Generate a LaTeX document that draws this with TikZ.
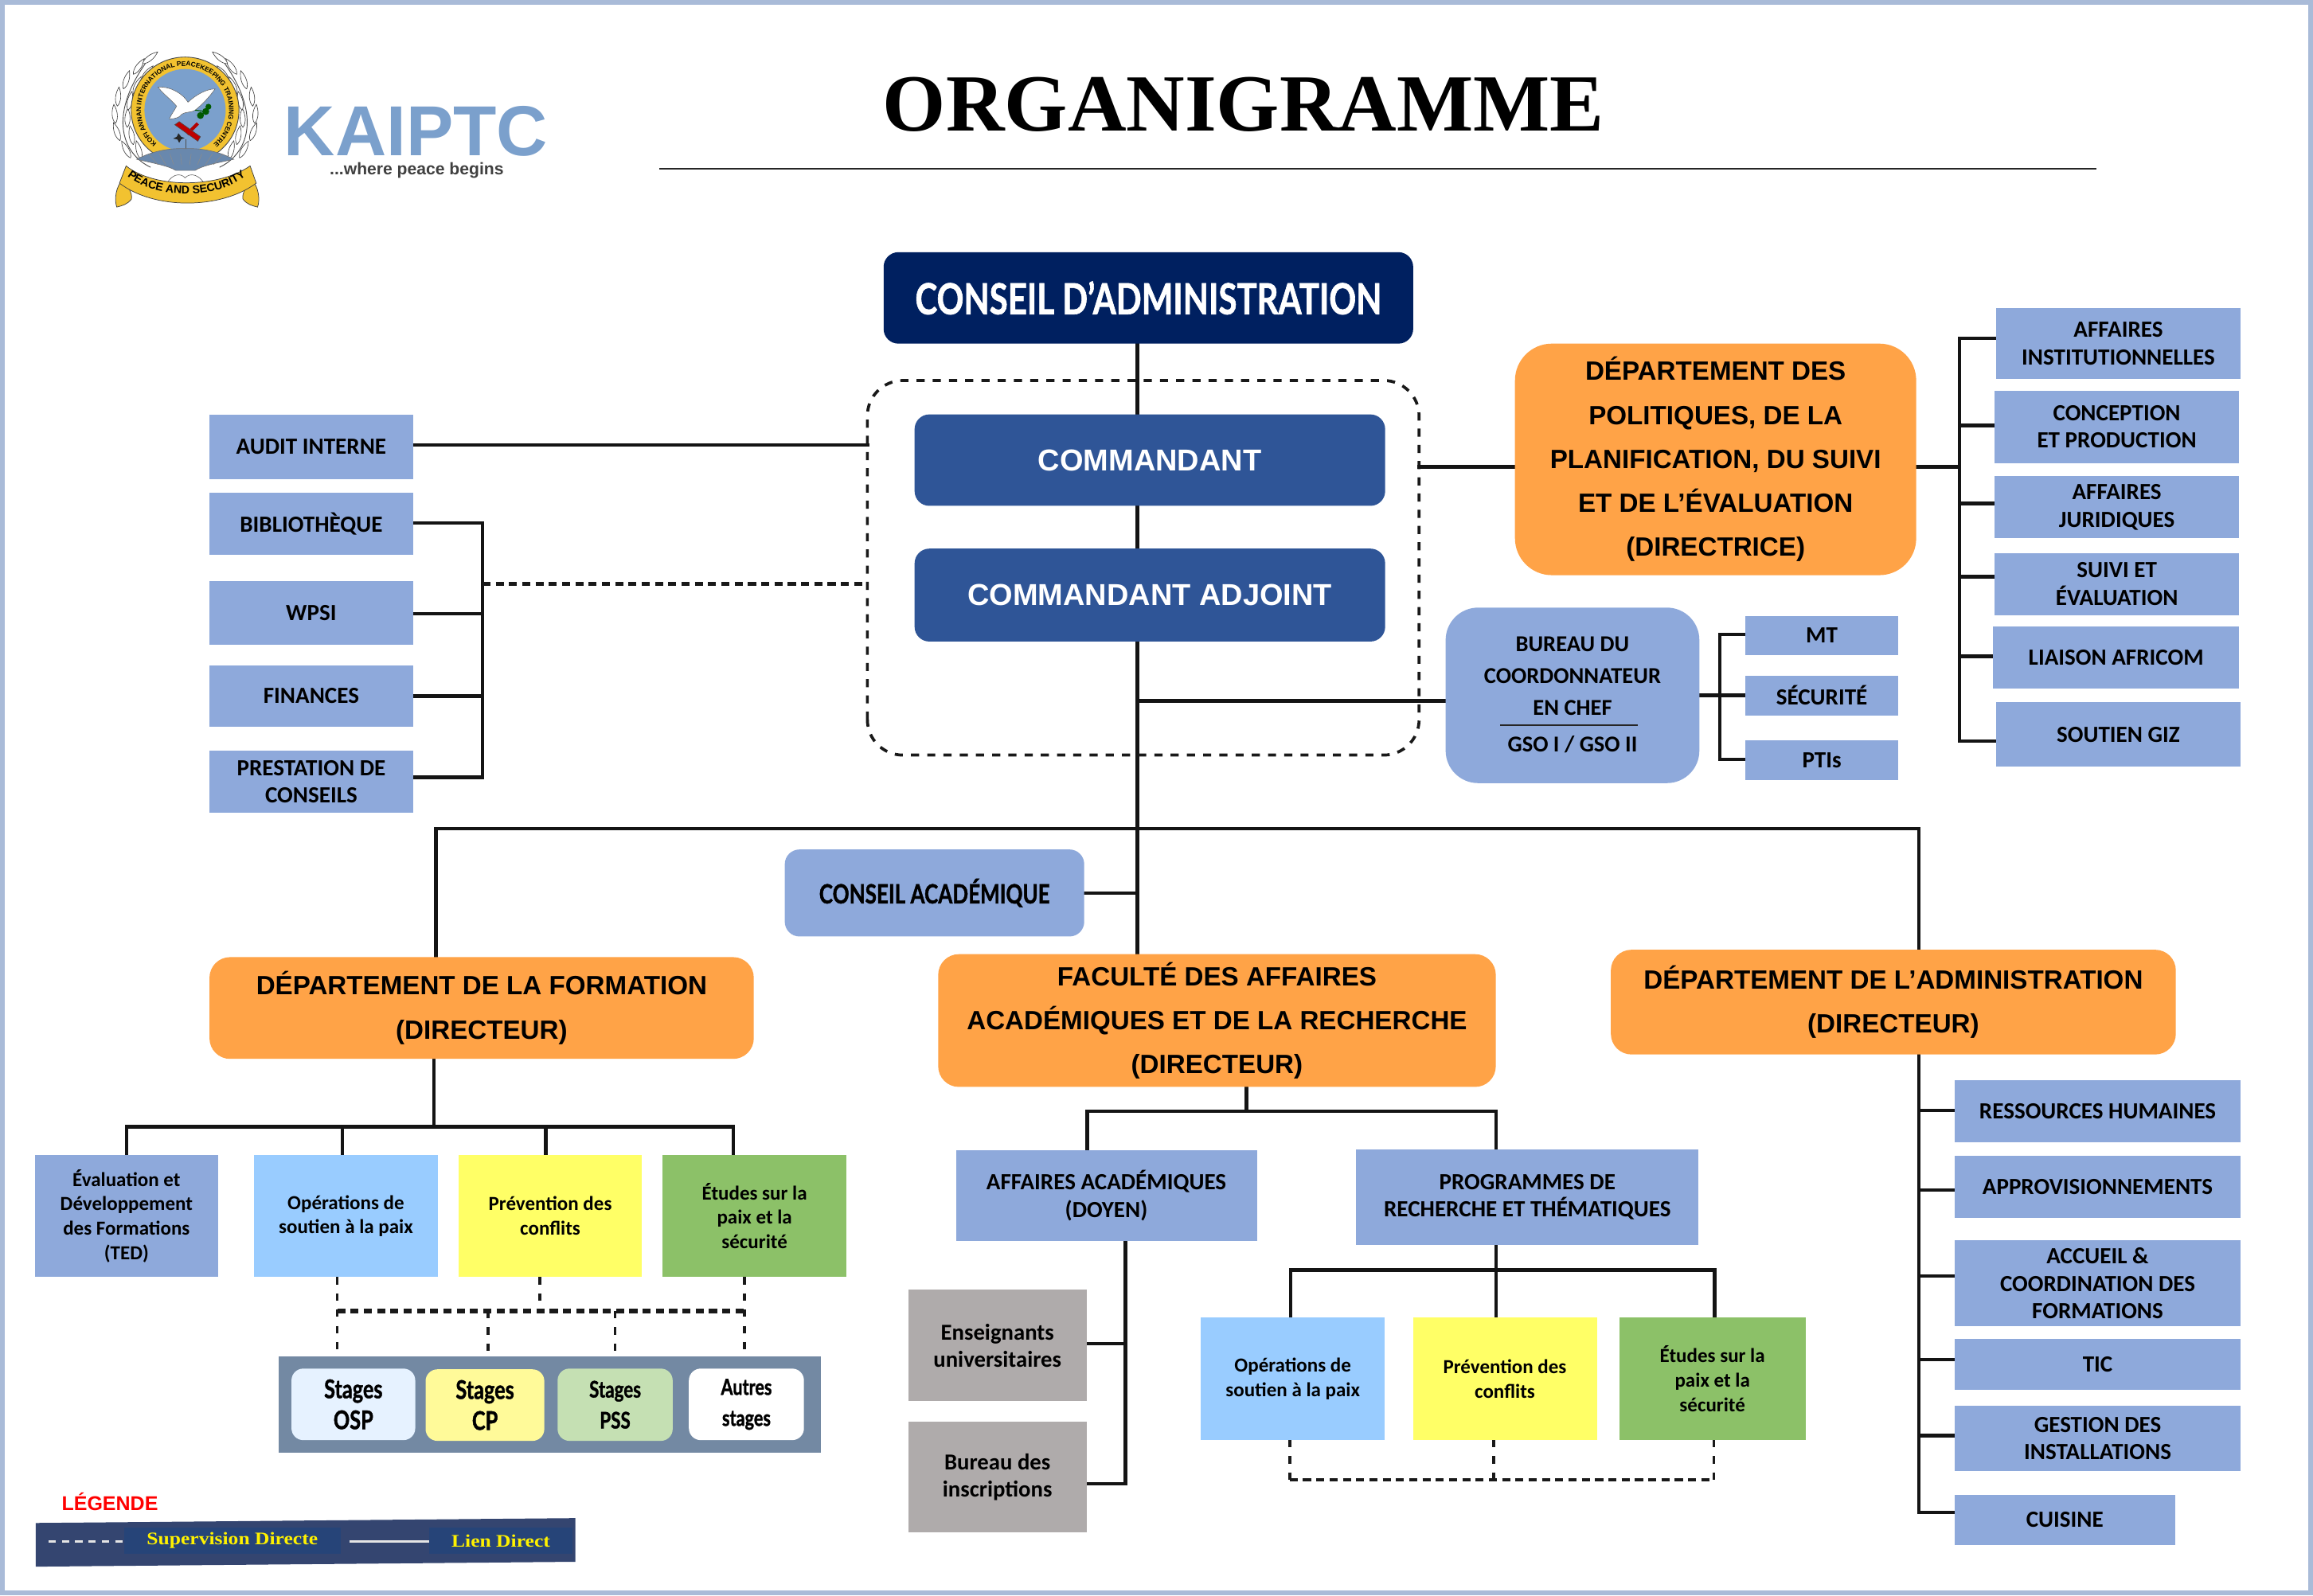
\documentclass[tikz,border=0pt]{standalone}
\usepackage{fontspec}
\usetikzlibrary{decorations.text}
\newfontfamily\calf{Carlito}
\newfontfamily\arl{Liberation Sans}
\newfontfamily\serf{Liberation Serif}
\newfontfamily\legf[FakeStretch=1.15]{Liberation Serif}
\newfontfamily\cond[FakeStretch=0.78,FakeBold=1.2]{Lato}
\definecolor{bluebx}{HTML}{8EA9DB}
\definecolor{orng}{HTML}{FFA347}
\definecolor{navy}{HTML}{002060}
\definecolor{roy}{HTML}{2F5597}
\definecolor{lblue}{HTML}{99CCFF}
\definecolor{lyel}{HTML}{FFFF66}
\definecolor{lgrn}{HTML}{8CC168}
\definecolor{gry}{HTML}{AFABAB}
\definecolor{panel}{HTML}{7389A3}
\definecolor{frame}{HTML}{A9BBD8}
\definecolor{lgold}{HTML}{F2C230}
\definecolor{lsky}{HTML}{7BA0CC}
\pgfdeclarelayer{paper}\pgfdeclarelayer{bg}\pgfsetlayers{paper,bg,main}
\tikzset{
 basebx/.style={inner sep=0pt,outer sep=0pt,align=center,text=black},
 cal/.style 2 args={font=\calf\bfseries\fontsize{#1}{#2}\selectfont},
 ari/.style 2 args={font=\arl\bfseries\fontsize{#1}{#2}\selectfont},
 cnd/.style 2 args={font=\cond\bfseries\fontsize{#1}{#2}\selectfont},
 bluebox/.style={basebx,fill=bluebx,cal={15.7}{18.5}},
 orangebox/.style={basebx,fill=orng,ari={17.9}{29.8},rounded corners=14pt},
 unitbox/.style={basebx,cal={13.5}{16.5}},
 stagebox/.style={basebx,rounded corners=8pt},
 ln/.style={draw=black!92,line width=2.3pt,line cap=rect},
 dashv/.style={draw=black!90,line width=1.9pt,dash pattern=on 5pt off 6pt},
 dashh/.style={draw=black!90,line width=2.8pt,dash pattern=on 5.5pt off 3.5pt},
}
\newcommand{\bx}[7]{\node[#1,minimum width={(#5-#3)*1pt},minimum height={(#6-#4)*1pt}] (#2) at ({(#3+#5)/2},{(#4+#6)/2}) {#7};}
\newcommand{\stubl}[3]{\draw[ln] ([yshift=#1pt]#2) -- ([yshift=#1pt]#2 -| #3);}
\newcommand{\leafshape}[3]{\draw[fill=white,draw=black!75,line width=.35pt,shift={(#1,#2)},rotate=#3] (0,0) .. controls (18,-14) and (48,-12) .. (72,0) .. controls (48,12) and (18,14) .. (0,0);}
\begin{document}
\begin{tikzpicture}[x=1pt,y=-1pt]
\useasboundingbox (0,0) rectangle (1568,1082.2);
\begin{pgfonlayer}{paper}
\fill[white] (0,0) rectangle (1568,1082.2);
\end{pgfonlayer}
\draw[frame,line width=3pt] (1.5,1.5) rectangle (1566.5,1080);

% ---------- logo ----------
\begin{scope}[shift={(70.2,32.4)},x=0.18pt,y=-0.18pt]
 \foreach \s in {1,-1}{
 \begin{scope}[shift={(307,0)},xscale=\s]
  \foreach \px/\py/\an in {-205/415/118,-245/350/110,-262/285/95,-255/220/85,-232/155/72,-195/100/55,-160/60/38,
                           -165/420/105,-195/365/100,-218/300/88,-215/235/78,-195/175/66,-165/125/52}
    {\leafshape{\px}{\py}{\an}}
  \draw[black!70,line width=.5pt] (-130,450) .. controls (-235,400) and (-290,260) .. (-150,60);
 \end{scope}}
 \fill[lgold] (307,235) ellipse [x radius=203,y radius=200];
 \draw[black!70,line width=.5pt] (307,235) ellipse [x radius=203,y radius=200];
 \fill[lsky] (307,235) ellipse [x radius=153,y radius=155];
 \path[decorate,decoration={text along path,text align=center,
   text={|\arl\bfseries\fontsize{4.5}{5}\selectfont|KOFI ANNAN INTERNATIONAL PEACEKEEPING TRAINING CENTRE}}]
   (204.8,365.8) .. controls (128.4,306.1) and (119.2,193.8) .. (184.9,122.5)
   .. controls (250.6,51.2) and (363.4,51.2) .. (429.1,122.5)
   .. controls (494.8,193.8) and (485.6,306.1) .. (409.2,365.8);
 % dove
 \draw[fill=white,draw=black!60,line width=.3pt] (205,148) .. controls (255,145) and (300,175) .. (318,205)
   .. controls (345,180) and (385,155) .. (420,155) .. controls (395,190) and (370,215) .. (345,235)
   .. controls (330,245) and (310,240) .. (295,250) .. controls (285,265) and (265,268) .. (248,268)
   .. controls (255,250) and (268,235) .. (275,220) .. controls (255,195) and (225,175) .. (205,148) -- cycle;
 \fill[green!35!black] (365,255) circle (13) (385,240) circle (13) (395,222) circle (11);
 \draw[green!35!black,line width=.6pt] (345,235) -- (385,240);
 % emblem
 \draw[line width=2.2pt,red!70!black] (355,285) -- (315,325);
 \draw[fill=red!75!black,draw=black!70,line width=.3pt] (268,290) -- (285,278) -- (365,335) -- (355,352) -- cycle;
 \fill[black!85] (282,322) -- (292,335) -- (305,340) -- (292,345) -- (285,358) -- (278,345) -- (262,342) -- (276,335) -- cycle;
 \draw[black!70,line width=1pt] (310,345) -- (310,385);
 % wings
 \draw[fill=lsky!85!black,draw=black!55,line width=.35pt] (125,420) .. controls (190,385) and (260,378) .. (307,380)
   .. controls (355,378) and (425,385) .. (490,420) .. controls (420,435) and (370,445) .. (345,462)
   -- (272,462) .. controls (245,445) and (190,435) .. (125,420) -- cycle;
 \foreach \q in {170,210,250,290,330,370,410,450}{\draw[black!45,line width=.3pt] (\q,400) -- ({\q+(307-\q)*.25},440);}
 % ribbon
 \draw[fill=white,draw=black!60,line width=.35pt] (225,540) .. controls (250,470) and (290,470) .. (307,490) .. controls (325,470) and (365,470) .. (395,540);
 \foreach \s in {1,-1}{
 \begin{scope}[shift={(315,0)},xscale=\s]
  \draw[fill=lgold,draw=black!75,line width=.4pt] (-240,495) .. controls (-270,520) and (-275,575) .. (-265,600)
    .. controls (-245,595) and (-225,590) .. (-210,570) .. controls (-205,545) and (-225,525) .. (-240,495) -- cycle;
 \end{scope}}
 \draw[fill=lgold,draw=black!75,line width=.4pt] (85,445) .. controls (190,530) and (430,530) .. (552,445)
   -- (575,510) .. controls (440,610) and (190,610) .. (60,510) -- cycle;
 \path[decorate,decoration={text along path,text align=center,
   text={|\arl\bfseries\fontsize{7.6}{8}\selectfont|PEACE AND SECURITY}}]
   (95,488) .. controls (200,570) and (420,570) .. (530,488);
\end{scope}
\node[inner sep=0pt,text=lsky,font=\arl\bfseries\fontsize{48}{50}\selectfont] (kaip) at (282,89) {KAIPTC};
\node[inner sep=0pt,text=black!75,font=\arl\bfseries\fontsize{11.4}{13}\selectfont] (tag) at (282.5,115.5) {...where peace begins};

% ---------- title ----------
\node[inner sep=0pt,font=\serf\bfseries\fontsize{55}{58}\selectfont] (title) at (843,71) {ORGANIGRAMME};
\coordinate (rl) at (447,114.5);
\coordinate (rr) at (1421,114.5);
\draw[black!85,line width=1.4pt] (rl) -- (rr);

% ---------- top ----------
\bx{basebx,fill=navy,text=white,rounded corners=10pt,cnd={29}{32}}{ca}{599}{171}{958}{233}{CONSEIL D’ADMINISTRATION}
\bx{basebx,fill=roy,text=white,rounded corners=10pt,ari={20.5}{25}}{cmd}{620}{281}{939}{343}{COMMANDANT}
\bx{basebx,fill=roy,text=white,rounded corners=10pt,ari={20.5}{25}}{adj}{620}{372}{939}{435}{COMMANDANT ADJOINT}
\node[minimum width=374pt,minimum height=254pt,inner sep=0pt,outer sep=0pt] (dbox) at (775,385) {};

% ---------- left ----------
\bx{bluebox}{audit}{142}{281}{280}{325}{AUDIT INTERNE}
\bx{bluebox}{bib}{142}{334}{280}{376}{BIBLIOTHÈQUE}
\bx{bluebox}{wpsi}{142}{394}{280}{437}{WPSI}
\bx{bluebox}{fin}{142}{451}{280}{493}{FINANCES}
\bx{bluebox}{prest}{142}{509}{280}{551}{PRESTATION DE\\CONSEILS}

% ---------- right ----------
\bx{orangebox,rounded corners=25pt}{dp}{1027}{233}{1299}{390}{DÉPARTEMENT DES\\POLITIQUES, DE LA\\PLANIFICATION, DU SUIVI\\ET DE L’ÉVALUATION\\(DIRECTRICE)}
\bx{bluebox}{ainst}{1353}{209}{1519}{257}{AFFAIRES\\INSTITUTIONNELLES}
\bx{bluebox}{concp}{1352}{265}{1518}{314}{CONCEPTION\\ET PRODUCTION}
\bx{bluebox}{jur}{1352}{323}{1518}{365}{AFFAIRES\\JURIDIQUES}
\bx{bluebox}{suivi}{1352}{375}{1518}{417}{SUIVI ET\\ÉVALUATION}
\bx{bluebox}{liais}{1351}{425}{1518}{467}{LIAISON AFRICOM}
\bx{bluebox}{giz}{1353}{476}{1519}{520}{SOUTIEN GIZ}

\bx{basebx,fill=bluebx,rounded corners=22pt}{bur}{980}{412}{1152}{531}{}
\node[inner sep=0pt,align=center,cal={15.4}{21.5}] (burt) at (1066,458.5) {BUREAU DU\\COORDONNATEUR\\EN CHEF};
\node[inner sep=0pt,cal={15.4}{17}] (gso) at (1066,505) {GSO I / GSO II};
\coordinate (brl) at (1017,491.8);
\coordinate (brr) at (1110.4,491.8);
\draw[black!85,line width=1.1pt] (brl) -- (brr);
\bx{bluebox}{mt}{1183}{418}{1287}{444}{MT}
\bx{bluebox}{secu}{1183}{458}{1287}{485}{SÉCURITÉ}
\bx{bluebox}{pti}{1183}{502}{1287}{529}{PTIs}

% ---------- academic ----------
\bx{basebx,fill=bluebx,rounded corners=10pt,cnd={18}{20}}{cac}{532}{576}{735}{635}{CONSEIL ACADÉMIQUE}
\bx{orangebox}{form}{142}{649}{511}{718}{DÉPARTEMENT DE LA FORMATION\\(DIRECTEUR)}
\bx{orangebox}{fac}{636}{647}{1014}{737}{FACULTÉ DES AFFAIRES\\ACADÉMIQUES ET DE LA RECHERCHE\\(DIRECTEUR)}
\bx{orangebox}{adm}{1092}{644}{1475}{715}{DÉPARTEMENT DE L’ADMINISTRATION\\(DIRECTEUR)}

% ---------- formation units ----------
\bx{unitbox,fill=bluebx}{ted}{23.5}{783}{148}{866}{Évaluation et\\Développement\\des Formations\\(TED)}
\bx{unitbox,fill=lblue}{op}{172}{783}{297}{866}{Opérations de\\soutien à la paix}
\bx{unitbox,fill=lyel}{prev}{311}{783}{435}{866}{Prévention des\\conflits}
\bx{unitbox,fill=lgrn}{etu}{449}{783}{574}{866}{Études sur la\\paix et la\\sécurité}

\bx{basebx,fill=panel}{pan}{189}{919.5}{556.6}{985}{}
\bx{stagebox,fill=lblue!25!white,cnd={17.5}{21}}{osp}{197.6}{928}{281.5}{976.5}{Stages\\OSP}
\bx{stagebox,fill=yellow!40!white,cnd={17.5}{21}}{cp}{288.5}{928.5}{369}{977}{Stages\\CP}
\definecolor{pssc}{HTML}{C5E0B3}
\bx{stagebox,fill=pssc,cnd={15.5}{21}}{pss}{378}{928}{456}{977}{Stages\\PSS}
\bx{stagebox,fill=white,cnd={15}{21}}{aut}{467}{928}{545}{976.5}{Autres\\stages}

% ---------- faculty units ----------
\bx{bluebox}{aac}{648}{780}{852}{841.5}{AFFAIRES ACADÉMIQUES\\(DOYEN)}
\bx{bluebox}{prog}{919.3}{779.3}{1151.5}{844.2}{PROGRAMMES DE\\RECHERCHE ET THÉMATIQUES}
\bx{basebx,fill=gry,cal={15.5}{18.5}}{ens}{615.6}{874.6}{736.7}{950}{Enseignants\\universitaires}
\bx{basebx,fill=gry,cal={15.5}{18.5}}{insc}{615.6}{964}{736.7}{1039}{Bureau des\\inscriptions}
\bx{unitbox,fill=lblue}{op2}{814}{893.4}{938.8}{976.4}{Opérations de\\soutien à la paix}
\bx{unitbox,fill=lyel}{prev2}{957.8}{893.4}{1082.5}{976.4}{Prévention des\\conflits}
\bx{unitbox,fill=lgrn}{etu2}{1097.8}{893.4}{1223.9}{976.4}{Études sur la\\paix et la\\sécurité}

% ---------- administration units ----------
\bx{bluebox}{rh}{1325}{732.2}{1519}{774.4}{RESSOURCES HUMAINES}
\bx{bluebox}{appr}{1325}{783.5}{1519}{825.7}{APPROVISIONNEMENTS}
\bx{bluebox}{acc}{1325}{841}{1519}{899.3}{ACCUEIL \&\\COORDINATION DES\\FORMATIONS}
\bx{bluebox}{tic}{1325}{908.1}{1519}{942.2}{TIC}
\bx{bluebox}{gest}{1325}{953.2}{1519}{997.3}{GESTION DES\\INSTALLATIONS}
\bx{bluebox}{cuis}{1325}{1013.4}{1474.5}{1047.5}{CUISINE}

% ---------- legend ----------
\node[inner sep=0pt,text=red,font=\arl\bfseries\fontsize{13.5}{15}\selectfont] (leg) at (74.5,1018) {LÉGENDE};
\definecolor{legbg}{HTML}{344570}
\definecolor{legin}{HTML}{264478}
\fill[legbg] (24.2,1032.7) -- (390,1029.4) -- (390,1059) -- (24.2,1062.3) -- cycle;
\bx{basebx,fill=legin,text=yellow,font=\legf\bfseries\fontsize{12}{14}\selectfont}{lsup}{84}{1036}{231}{1053.5}{Supervision Directe}
\bx{basebx,fill=legin,text=yellow,font=\legf\bfseries\fontsize{12}{14}\selectfont}{llie}{291}{1036}{388}{1053.5}{Lien Direct}
\coordinate (lda) at (33,1045.2);
\draw[white!90!black,line width=1.7pt,dash pattern=on 5pt off 4pt] (lda) -- (lda -| lsup.west);
\coordinate (lsa) at (237,1045.2);
\draw[white!90!black,line width=1.7pt] (lsa) -- (lsa -| llie.west);

% ---------- connectors ----------
\begin{pgfonlayer}{bg}
\coordinate (mx) at (771,562);
\coordinate (fj) at (295.5,562);
\coordinate (aj) at (1301,562);
\draw[ln] (ca.south -| mx) -- (fac.north -| mx);
\draw[ln] (fj) -- (aj);
\draw[ln] (fj) -- (form.north -| fj);
\draw[ln] (aj) -- (adm.north -| aj);
\draw[ln] (cac.east) -- (cac.east -| mx);
% dashed frame
\draw[draw=black!90,line width=2pt,dash pattern=on 5.5pt off 5.5pt,rounded corners=24pt] (dbox.south west) rectangle (dbox.north east);
% left
\stubl{1.2}{audit.east}{dbox.west}
\coordinate (bl) at (327,396);
\stubl{0.5}{bib.east}{bl}
\stubl{-0.5}{wpsi.east}{bl}
\stubl{0}{fin.east}{bl}
\stubl{3}{prest.east}{bl}
\draw[ln] ([yshift=0.5pt]bib.east -| bl) -- ([yshift=3pt]prest.east -| bl);
\draw[dashh] (bl) -- (bl -| dbox.west);
% right
\coordinate (rb) at (1328.5,316.5);
\draw[ln] (rb -| dbox.east) -- (rb -| dp.west);
\draw[ln] (rb -| dp.east) -- (rb);
\stubl{3.5}{ainst.west}{rb}
\stubl{1}{concp.west}{rb}
\stubl{2.6}{jur.west}{rb}
\stubl{5}{suivi.west}{rb}
\stubl{1}{liais.west}{rb}
\stubl{-4.7}{giz.west}{rb}
\draw[ln] ([yshift=3.5pt]ainst.west -| rb) -- ([yshift=-4.7pt]giz.west -| rb);
% bureau
\stubl{-3.8}{bur.west}{mx}
\coordinate (bb) at (1166,471.5);
\draw[ln] (bur.east) -- (secu.west);
\stubl{1}{mt.west}{bb}
\stubl{0.4}{pti.west}{bb}
\draw[ln] ([yshift=1pt]mt.west -| bb) -- ([yshift=0.4pt]pti.west -| bb);
% formation
\coordinate (fd) at (294,764);
\coordinate (d1) at (86,764);
\coordinate (d2) at (232,764);
\coordinate (d3) at (370,764);
\coordinate (d4) at (497,764);
\draw[ln] (form.south -| fd) -- (fd);
\draw[ln] (ted.north -| d1) -- (d1) -- (d4) -- (etu.north -| d4);
\draw[ln] (d2) -- (op.north -| d2);
\draw[ln] (d3) -- (prev.north -| d3);
% stages dashed
\coordinate (s1) at (228.6,889);
\coordinate (s2) at (366,889);
\coordinate (s3) at (504.6,889);
\coordinate (s4) at (331,889);
\coordinate (s5) at (417,889);
\draw[dashv] (op.south -| s1) -- (pan.north -| s1);
\draw[dashv] (etu.south -| s3) -- (pan.north -| s3);
\draw[dashv] (prev.south -| s2) -- (s2);
\draw[dashv] (s4) -- (pan.north -| s4);
\draw[dashv] (s5) -- (pan.north -| s5);
\draw[dashh] (s1) -- (s3);
% faculty
\coordinate (fb) at (845,753.4);
\coordinate (fl) at (737,753.4);
\coordinate (fr) at (1014,753.4);
\draw[ln] (fac.south -| fb) -- (fb);
\draw[ln] (aac.north -| fl) -- (fl) -- (fr) -- (prog.north -| fr);
\coordinate (ax) at (763,900);
\draw[ln] (aac.south -| ax) -- ([yshift=-4.6pt]insc.east -| ax);
\stubl{1.1}{ens.east}{ax}
\stubl{-4.6}{insc.east}{ax}
\coordinate (pj) at (1014,861.2);
\coordinate (pl) at (875,861.2);
\coordinate (pr) at (1162.3,861.2);
\draw[ln] (prog.south -| pj) -- (prev2.north -| pj);
\draw[ln] (op2.north -| pl) -- (pl) -- (pr) -- (etu2.north -| pr);
\coordinate (q1) at (874.3,1003.4);
\coordinate (q2) at (1012.7,1003.4);
\coordinate (q3) at (1161.9,1003.4);
\draw[dashv] (op2.south -| q1) -- (q1);
\draw[dashv] (prev2.south -| q2) -- (q2);
\draw[dashv] (etu2.south -| q3) -- (q3);
\draw[dashh,line width=2.2pt] (q1) -- (q3);
% administration
\coordinate (ab) at (1301,800);
\draw[ln] (adm.south -| ab) -- ([yshift=4.9pt]cuis.west -| ab);
\stubl{0.4}{rh.west}{ab}
\stubl{-2.3}{appr.west}{ab}
\stubl{4.8}{acc.west}{ab}
\stubl{3.3}{tic.west}{ab}
\stubl{1.8}{gest.west}{ab}
\stubl{4.9}{cuis.west}{ab}
\end{pgfonlayer}
\end{tikzpicture}
\end{document}
